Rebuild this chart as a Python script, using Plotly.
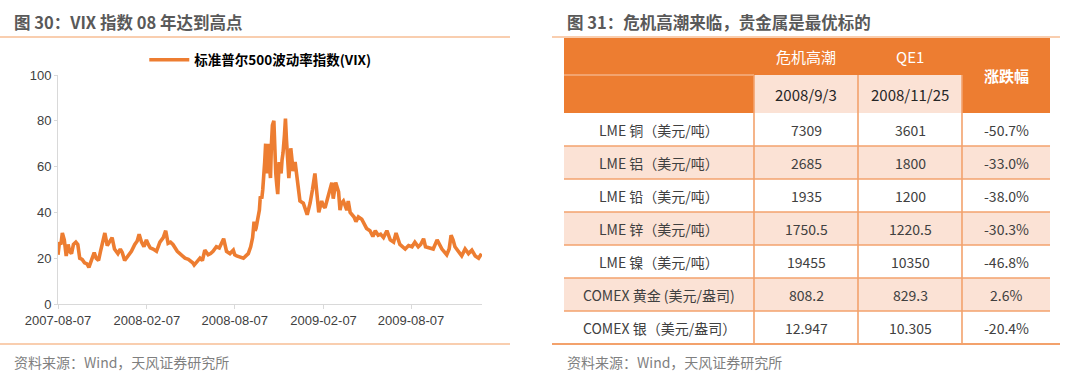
import plotly.graph_objects as go

# ---------------- data ----------------
vix_dates = [
    "2007-08-07", "2007-08-10", "2007-08-13", "2007-08-16", "2007-08-20", "2007-08-22", "2007-08-24",
    "2007-08-28", "2007-08-31", "2007-09-04", "2007-09-08", "2007-09-13", "2007-09-17", "2007-09-21",
    "2007-09-26", "2007-10-01", "2007-10-06", "2007-10-10", "2007-10-15", "2007-10-21", "2007-10-25",
    "2007-10-30", "2007-11-03", "2007-11-07", "2007-11-12", "2007-11-17", "2007-11-22", "2007-11-27",
    "2007-12-02", "2007-12-09", "2007-12-14", "2007-12-18", "2007-12-23", "2007-12-30",
    "2008-01-06", "2008-01-13", "2008-01-18", "2008-01-22", "2008-01-27", "2008-02-01", "2008-02-06",
    "2008-02-10", "2008-02-14", "2008-02-20", "2008-02-27", "2008-03-05", "2008-03-12", "2008-03-17",
    "2008-03-22", "2008-03-27", "2008-04-01", "2008-04-10", "2008-04-15", "2008-04-19", "2008-04-26",
    "2008-05-03", "2008-05-06", "2008-05-12", "2008-05-15", "2008-05-20", "2008-05-27", "2008-06-01",
    "2008-06-06", "2008-06-13", "2008-06-18", "2008-06-23", "2008-06-30", "2008-07-06", "2008-07-12",
    "2008-07-15", "2008-07-21", "2008-07-28", "2008-08-04", "2008-08-07", "2008-08-11", "2008-08-18",
    "2008-08-25", "2008-08-30", "2008-09-04", "2008-09-09", "2008-09-13", "2008-09-16", "2008-09-18",
    "2008-09-20", "2008-09-23", "2008-09-27", "2008-09-29", "2008-10-02", "2008-10-04", "2008-10-06",
    "2008-10-08", "2008-10-10", "2008-10-12", "2008-10-14", "2008-10-15", "2008-10-18", "2008-10-20",
    "2008-10-22", "2008-10-24", "2008-10-27", "2008-10-29", "2008-10-31", "2008-11-02", "2008-11-04",
    "2008-11-07", "2008-11-11", "2008-11-13", "2008-11-15", "2008-11-18", "2008-11-20", "2008-11-22",
    "2008-11-24", "2008-11-27", "2008-11-29", "2008-12-01", "2008-12-04", "2008-12-06", "2008-12-10",
    "2008-12-13", "2008-12-16", "2008-12-20", "2008-12-27", "2008-12-31",
    "2009-01-04", "2009-01-10", "2009-01-13", "2009-01-15", "2009-01-20", "2009-01-24", "2009-01-28",
    "2009-02-03", "2009-02-06", "2009-02-10", "2009-02-17", "2009-02-20", "2009-02-24", "2009-02-27",
    "2009-03-04", "2009-03-10", "2009-03-13", "2009-03-16", "2009-03-20", "2009-03-27", "2009-03-30",
    "2009-04-03", "2009-04-07", "2009-04-11", "2009-04-15", "2009-04-20", "2009-04-27", "2009-05-02",
    "2009-05-07", "2009-05-14", "2009-05-20", "2009-05-25", "2009-05-31", "2009-06-05", "2009-06-11",
    "2009-06-18", "2009-06-25", "2009-07-02", "2009-07-07", "2009-07-15", "2009-07-21", "2009-07-26",
    "2009-08-02", "2009-08-09", "2009-08-15", "2009-08-22", "2009-08-27", "2009-09-02", "2009-09-06",
    "2009-09-12", "2009-09-22", "2009-09-30", "2009-10-05", "2009-10-10", "2009-10-20", "2009-10-25",
    "2009-10-29", "2009-11-02", "2009-11-06", "2009-11-13", "2009-11-20", "2009-11-27", "2009-12-04",
    "2009-12-11", "2009-12-18", "2009-12-25", "2009-12-31",
]
vix_values = [
    21.5, 27, 26, 31, 28, 22, 21,
    26, 23, 22, 26, 27, 26, 20,
    19.5, 18, 17.5, 16, 19, 22.5, 20,
    19, 23, 26.5, 31, 25.5, 27, 29,
    24, 22, 24, 22.5, 19, 21,
    23, 26, 27.5, 30.5, 27, 25, 28,
    26, 24.5, 24, 23, 27, 29, 32,
    26.5, 27, 26, 23, 22, 21, 20,
    19.5, 19, 18, 17, 18.5, 20, 19,
    23.5, 21.5, 22, 23, 25, 24.5, 27.5,
    28.5, 23, 22, 23.5, 21.5, 21, 20.5,
    20, 21, 22, 25, 29, 36, 32,
    33, 37, 41, 47, 46, 50, 55,
    62, 70, 57, 62, 70, 60, 55,
    70, 78, 80, 66, 57, 52, 48,
    62, 57, 63, 66, 74, 81, 72,
    62, 55, 60, 68, 62, 58, 62,
    56, 52, 45, 44, 41,
    39, 44, 47, 50, 57, 47, 40,
    45, 43, 42, 47, 50, 53, 46,
    53, 49, 41, 44, 45, 41, 45,
    40, 39, 38, 36, 38, 37, 35,
    33, 32, 29.5, 32, 30, 30.5, 29,
    32, 28, 27, 31, 26, 25, 24,
    25.5, 25, 27, 25, 26, 28.5, 25,
    24.5, 24, 28, 26, 24, 21.5, 24,
    30, 28, 25, 23, 21, 24, 22,
    23.5, 21, 20, 22,
]
series_name = "标准普尔500波动率指数(VIX)"
x_tick_dates = ["2007-08-07", "2008-02-07", "2008-08-07", "2009-02-07", "2009-08-07"]
y_tick_values = [0, 20, 40, 60, 80, 100]

left_title = "图 30：VIX 指数 08 年达到高点"
right_title = "图 31：危机高潮来临，贵金属是最优标的"
source_text = "资料来源：Wind，天风证券研究所"

header_top = ["", "危机高潮", "QE1", "涨跌幅"]
header_dates = ["", "2008/9/3", "2008/11/25"]
items = ["LME 铜（美元/吨）", "LME 铝（美元/吨）", "LME 铅（美元/吨）", "LME 锌（美元/吨）",
         "LME 镍（美元/吨）", "COMEX 黄金 (美元/盎司)", "COMEX 银（美元/盎司）"]
crisis_prices = ["7309", "2685", "1935", "1750.5", "19455", "808.2", "12.947"]
qe1_prices = ["3601", "1800", "1200", "1220.5", "10350", "829.3", "10.305"]
changes = ["-50.7%", "-33.0%", "-38.0%", "-30.3%", "-46.8%", "2.6%", "-20.4%"]

# ---------------- layout constants ----------------
W, H = 1080, 383
ORANGE = "#ED7D31"
PEACH = "#FBE2D5"
GRID = "#F3A26C"
SEP = "#F7BE94"
CJK = "Noto Sans CJK SC"
LAT = "Liberation Sans, Arial"


def px(x):
    return x / W


def py(y):
    return 1 - y / H


col_w = [190, 104, 104, 88]
row_h = [37, 38] + [33] * len(items)
col_edges = [sum(col_w[:i]) for i in range(len(col_w) + 1)]
row_edges = [sum(row_h[:i]) for i in range(len(row_h) + 1)]
col_mid = [(col_edges[i] + col_edges[i + 1]) / 2 for i in range(len(col_w))]
row_mid = [(row_edges[i] + row_edges[i + 1]) / 2 for i in range(len(row_h))]

fig = go.Figure()
fig.add_trace(go.Scatter(
    x=vix_dates, y=vix_values, mode="lines", name=series_name,
    line=dict(color=ORANGE, width=3.6), xaxis="x", yaxis="y",
))

shapes = []
annotations = []

# panel decorations
for (x0, x1) in [(0, 510), (552, 1060)]:
    shapes.append(dict(type="line", xref="paper", yref="paper", x0=px(x0), x1=px(x1),
                       y0=py(37), y1=py(37), line=dict(color=SEP, width=1.5)))
shapes.append(dict(type="line", xref="paper", yref="paper", x0=px(0), x1=px(510),
                   y0=py(344), y1=py(344), line=dict(color=SEP, width=1.5)))

annotations.append(dict(text=left_title, xref="paper", yref="paper", x=px(12), y=py(22),
                        xanchor="left", yanchor="middle", showarrow=False,
                        font=dict(family=CJK, size=16.5, color="#595959", weight="bold")))
annotations.append(dict(text=right_title, xref="paper", yref="paper", x=px(565), y=py(22),
                        xanchor="left", yanchor="middle", showarrow=False,
                        font=dict(family=CJK, size=16.5, color="#595959", weight="bold")))
for sx in (12, 565):
    annotations.append(dict(text=source_text, xref="paper", yref="paper", x=px(sx), y=py(362),
                            xanchor="left", yanchor="middle", showarrow=False,
                            font=dict(family=CJK, size=14, color="#7F7F7F")))

# ---------------- table ----------------
def rect(c0, c1, r0, r1, color):
    shapes.append(dict(type="rect", xref="x2", yref="y2", layer="below",
                       x0=col_edges[c0], x1=col_edges[c1], y0=row_edges[r0], y1=row_edges[r1],
                       fillcolor=color, line=dict(width=0)))


def hline(c0, c1, r, color, width):
    shapes.append(dict(type="line", xref="x2", yref="y2", x0=col_edges[c0], x1=col_edges[c1],
                       y0=row_edges[r], y1=row_edges[r], line=dict(color=color, width=width)))


def vline(c, r0, r1, color, width):
    shapes.append(dict(type="line", xref="x2", yref="y2", x0=col_edges[c], x1=col_edges[c],
                       y0=row_edges[r0], y1=row_edges[r1], line=dict(color=color, width=width)))


ncol = len(col_w)
nrow = len(row_h)
rect(0, ncol, 0, 2, ORANGE)
rect(1, 3, 1, 2, PEACH)
for i in range(len(items)):
    rect(0, ncol, 2 + i, 3 + i, PEACH if i % 2 == 1 else "white")

hline(0, 1, 1, "#F8CBAD", 1)
for r in range(3, nrow):
    hline(0, ncol, r, GRID, 1.6)
for c in (1, 2, 3):
    vline(c, 1, nrow, GRID, 1.6)
shapes.append(dict(type="line", xref="paper", yref="paper", x0=px(552), x1=px(1060),
                   y0=py(344), y1=py(344), line=dict(color=GRID, width=2)))


def cell_text(c, r, text, color, size, bold=False, ymid=None):
    annotations.append(dict(text=text, xref="x2", yref="y2", x=col_mid[c],
                            y=row_mid[r] if ymid is None else ymid,
                            xanchor="center", yanchor="middle", showarrow=False,
                            font=dict(family=CJK, size=size, color=color,
                                      weight="bold" if bold else "normal")))


cell_text(1, 0, header_top[1], "white", 15)
cell_text(2, 0, header_top[2], "white", 15)
cell_text(3, 0, header_top[3], "white", 15, bold=True, ymid=row_edges[2] / 2)
cell_text(1, 1, header_dates[1], "#262626", 15)
cell_text(2, 1, header_dates[2], "#262626", 15)
for i in range(len(items)):
    cell_text(0, 2 + i, items[i], "#404040", 14)
    cell_text(1, 2 + i, crisis_prices[i], "#404040", 14)
    cell_text(2, 2 + i, qe1_prices[i], "#404040", 14)
    cell_text(3, 2 + i, changes[i], "#404040", 14)

fig.update_layout(
    width=W, height=H,
    margin=dict(l=0, r=0, t=0, b=0, pad=0, autoexpand=False),
    paper_bgcolor="white", plot_bgcolor="white",
    showlegend=True,
    legend=dict(orientation="h", x=0.241, xanchor="center", y=py(60), yanchor="middle",
                font=dict(family=CJK, size=13.5, color="#000000", weight="bold"),
                bgcolor="rgba(0,0,0,0)", itemwidth=40),
    xaxis=dict(domain=[px(58), px(482)], type="date", automargin=False,
               range=["2007-08-07", "2010-01-01"],
               tickvals=x_tick_dates, ticktext=x_tick_dates,
               showgrid=False, zeroline=False, showline=True, linecolor="#D9D9D9", linewidth=1,
               ticks="outside", ticklen=4, tickcolor="#D9D9D9",
               tickfont=dict(family=LAT, size=13, color="#404040")),
    yaxis=dict(domain=[py(304), py(75)], range=[0, 100], tickvals=y_tick_values, automargin=False,
               showgrid=False, zeroline=False, showline=True, linecolor="#D9D9D9", linewidth=1,
               ticks="outside", ticklen=3, tickcolor="#D9D9D9",
               tickfont=dict(family=LAT, size=13, color="#404040")),
    xaxis2=dict(domain=[px(564), px(1050)], range=[0, col_edges[-1]], visible=False,
                anchor="y2", fixedrange=True, automargin=False),
    yaxis2=dict(domain=[py(344), py(38)], range=[row_edges[-1], 0], visible=False,
                anchor="x2", fixedrange=True, automargin=False),
    shapes=shapes,
    annotations=annotations,
)

fig.write_html("out.html", config={"displayModeBar": False},
               post_script="document.body.style.margin='0';document.body.style.padding='0';")
